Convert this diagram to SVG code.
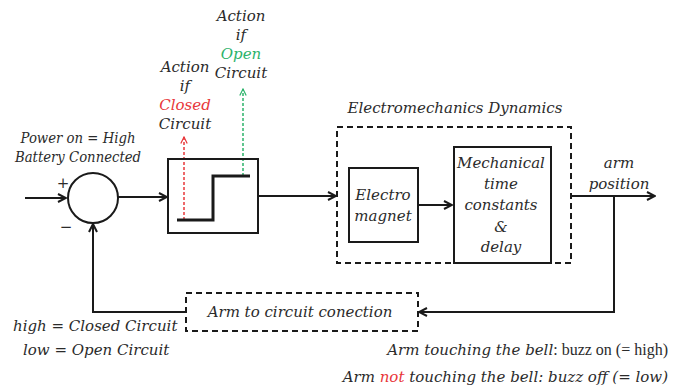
<svg xmlns="http://www.w3.org/2000/svg" width="675" height="390" viewBox="0 0 675 390">
<defs>
<style>
.ln{fill:none;stroke:#1a1a1a;stroke-width:2}
.dbox{fill:none;stroke:#1a1a1a;stroke-width:2;stroke-dasharray:6 4}
.t{font-family:"DejaVu Serif","Liberation Serif",serif;font-style:italic;font-size:15px;fill:#2b2b2b;text-anchor:middle}
.s{text-anchor:start}
.e{text-anchor:end}
.red{fill:#e8373a}
.grn{fill:#2db36b}
.up{font-family:"Liberation Serif",serif;font-style:normal;font-size:16px}
</style>
<marker id="ah" viewBox="0 0 10 10" refX="9" refY="5" markerWidth="10" markerHeight="10" markerUnits="userSpaceOnUse" orient="auto">
<path d="M1,1 L9,5 L1,9" fill="none" stroke="#1a1a1a" stroke-width="2"/>
</marker>
<marker id="ahr" viewBox="0 0 10 10" refX="9" refY="5" markerWidth="8" markerHeight="8" markerUnits="userSpaceOnUse" orient="auto">
<path d="M1,1 L9,5 L1,9" fill="none" stroke="#e8373a" stroke-width="1.5"/>
</marker>
<marker id="ahg" viewBox="0 0 10 10" refX="9" refY="5" markerWidth="8" markerHeight="8" markerUnits="userSpaceOnUse" orient="auto">
<path d="M1,1 L9,5 L1,9" fill="none" stroke="#2db36b" stroke-width="1.5"/>
</marker>
</defs>
<rect width="675" height="390" fill="#fff"/>

<g id="connectors">
<path class="ln" d="M25,198 L66,198" marker-end="url(#ah)"/>
<path class="ln" d="M118,197 L167,197" marker-end="url(#ah)"/>
<path class="ln" d="M258,196 L336,196" marker-end="url(#ah)"/>
<path class="ln" d="M418,205 L452,205" marker-end="url(#ah)"/>
<path class="ln" d="M571,196 L655,196" marker-end="url(#ah)"/>
<path class="ln" d="M614,196 L614,312 L419,312" marker-end="url(#ah)"/>
<path class="ln" d="M186,312 L93,312 L93,224" marker-end="url(#ah)"/>
<path d="M184,220 L184,137" fill="none" stroke="#e8373a" stroke-width="1.5" stroke-dasharray="3 2" marker-end="url(#ahr)"/>
<path d="M243,176 L243,89" fill="none" stroke="#2db36b" stroke-width="1.5" stroke-dasharray="3 2" marker-end="url(#ahg)"/>
</g>

<g id="sum">
<circle class="ln" cx="93" cy="198" r="25"/>
<text class="t" x="63" y="188">+</text>
<text class="t" x="66" y="232">−</text>
</g>

<g id="power-label">
<text class="t" x="78" y="143" textLength="115" lengthAdjust="spacingAndGlyphs">Power on = High</text>
<text class="t" x="78" y="162" textLength="126" lengthAdjust="spacingAndGlyphs">Battery Connected</text>
</g>

<g id="relay">
<rect class="ln" x="168" y="159" width="90" height="74"/>
<path d="M177,220 L213,220 L213,176 L250,176" fill="none" stroke="#1a1a1a" stroke-width="3"/>
</g>

<g id="closed-label">
<text class="t" x="185" y="72">Action</text>
<text class="t" x="185" y="91">if</text>
<text class="t red" x="185" y="110">Closed</text>
<text class="t" x="185" y="129">Circuit</text>
</g>

<g id="open-label">
<text class="t" x="241" y="21">Action</text>
<text class="t" x="241" y="40">if</text>
<text class="t grn" x="241" y="59">Open</text>
<text class="t" x="241" y="78">Circuit</text>
</g>

<g id="electromechanics">
<rect class="dbox" x="337" y="127" width="234" height="136"/>
<text class="t" x="455" y="113">Electromechanics Dynamics</text>
</g>

<g id="electromagnet">
<rect class="ln" x="349" y="168" width="69" height="74"/>
<text class="t" x="383" y="200">Electro</text>
<text class="t" x="383" y="221">magnet</text>
</g>

<g id="mechanical">
<rect class="ln" x="454" y="147" width="97" height="116"/>
<text class="t" x="501" y="168">Mechanical</text>
<text class="t" x="501" y="189">time</text>
<text class="t" x="501" y="210">constants</text>
<text class="t" x="501" y="232">&amp;</text>
<text class="t" x="501" y="252">delay</text>
</g>

<g id="arm-position">
<text class="t" x="619" y="168">arm</text>
<text class="t" x="619" y="189">position</text>
</g>

<g id="arm-to-circuit">
<rect class="dbox" x="186" y="293" width="232" height="38"/>
<text class="t" x="300" y="317">Arm to circuit conection</text>
</g>

<g id="notes">
<text class="t s" x="13" y="331">high = Closed Circuit</text>
<text class="t s" x="23" y="355">low = Open Circuit</text>
<text class="t e" x="668" y="355">Arm touching the bell<tspan class="up">: buzz on (= high)</tspan></text>
<text class="t e" x="668" y="382">Arm <tspan class="red">not</tspan> touching the bell: buzz off (= low)</text>
</g>
</svg>
